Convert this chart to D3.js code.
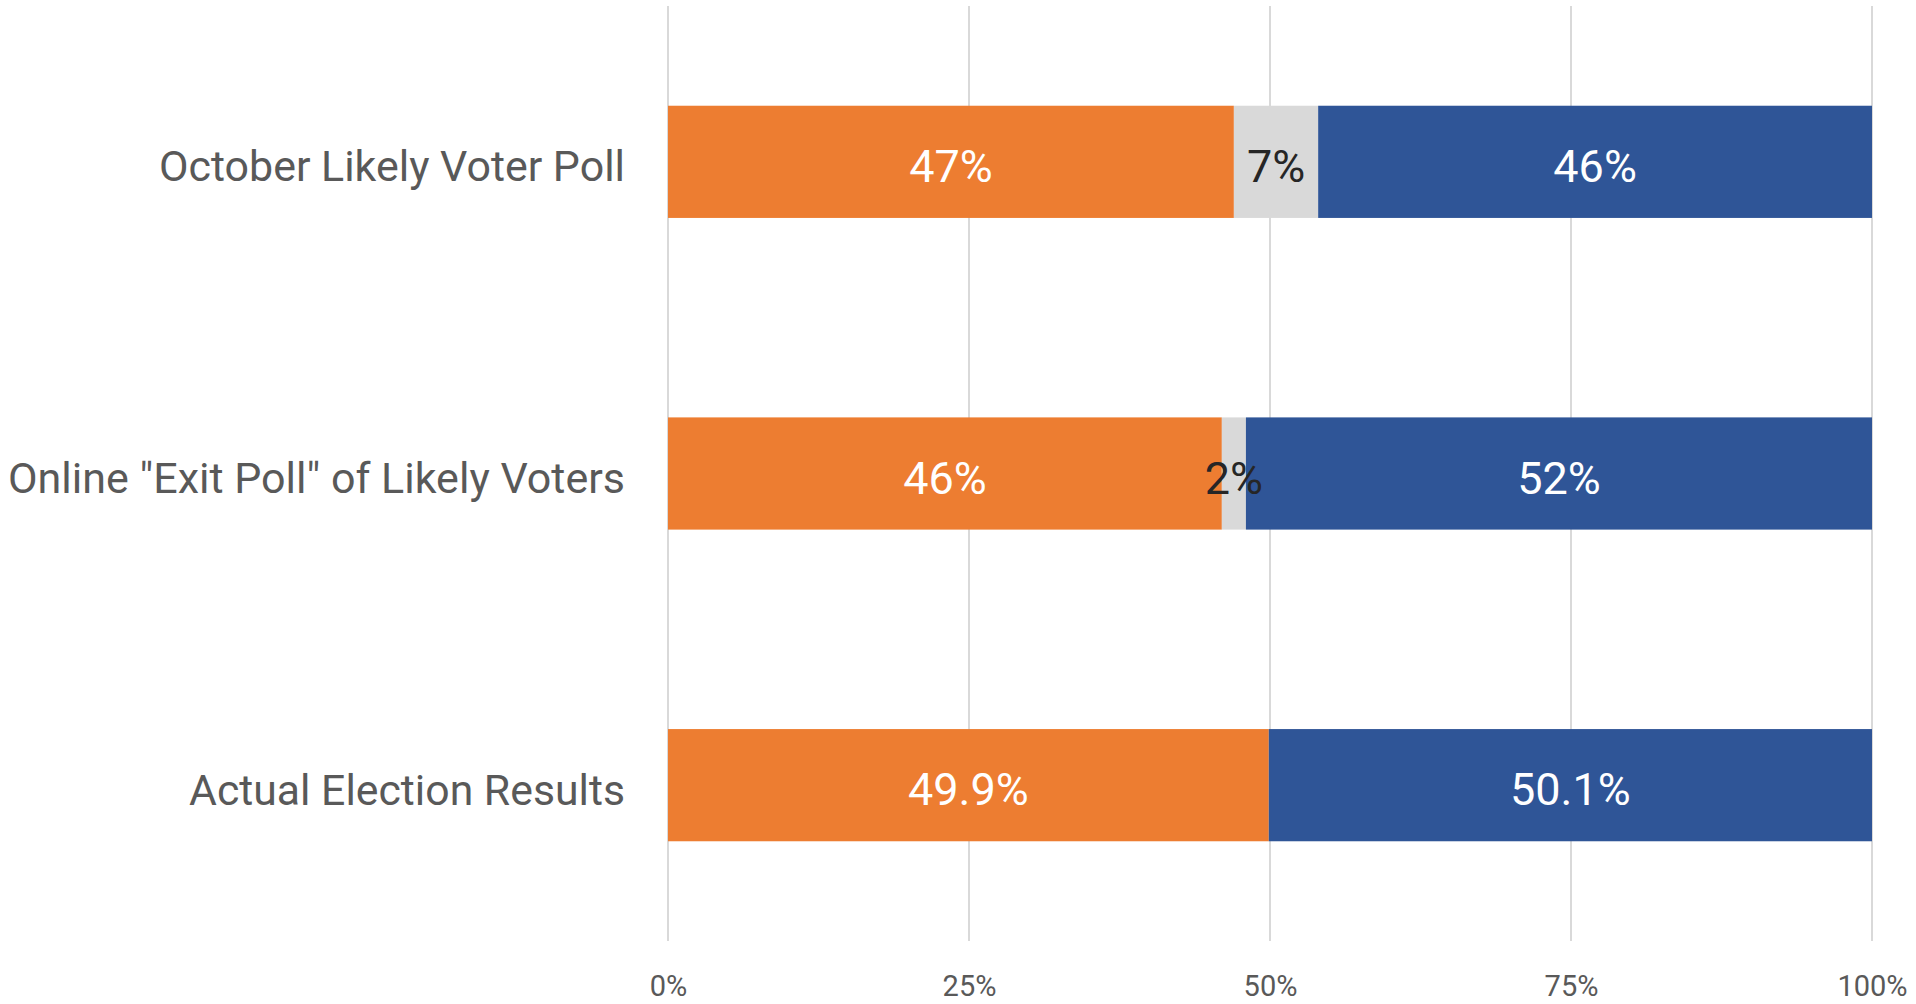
<!DOCTYPE html>
<html>
<head>
<meta charset="utf-8">
<script src="https://cdn.jsdelivr.net/npm/d3@7"></script>
<style>
  body { margin: 0; background: #fff; }
  svg { display: block; font-family: Roboto, "Noto Sans", sans-serif; }
</style>
</head>
<body>
<div id="chart"></div>
<script>
const FRAME_WIDTH = 1916;
const FRAME_HEIGHT = 1004;
const MARGINS = { left: 668, right: 44, top: 6, bottom: 63 };

// data
const categories = ["October Likely Voter Poll", "Online \"Exit Poll\" of Likely Voters", "Actual Election Results"];
const seriesKeys = ["candA", "undecided", "candB"];
const candAValues = [47, 46, 49.9];
const undecidedValues = [7, 2, 0];
const candBValues = [46, 52, 50.1];
const tickValues = [0, 25, 50, 75, 100];

const COLORS = { candA: "#ED7D31", undecided: "#D9D9D9", candB: "#2F5597" };
const LABEL_COLORS = { candA: "#FFFFFF", undecided: "#262626", candB: "#FFFFFF" };
const CAT_WIDTHS = [466, 617, 436];

const VIS_WIDTH = FRAME_WIDTH - MARGINS.left - MARGINS.right;
const VIS_HEIGHT = FRAME_HEIGHT - MARGINS.top - MARGINS.bottom;

const rows = categories.map((c, i) => ({
  category: c,
  candA: candAValues[i],
  undecided: undecidedValues[i],
  candB: candBValues[i]
}));

const svg = d3.select("#chart")
  .append("svg")
  .attr("width", FRAME_WIDTH)
  .attr("height", FRAME_HEIGHT);

const X_SCALE = d3.scaleLinear()
  .domain([0, 100])
  .range([MARGINS.left, MARGINS.left + VIS_WIDTH]);

const Y_SCALE = d3.scaleBand()
  .domain(categories)
  .range([MARGINS.top, MARGINS.top + VIS_HEIGHT])
  .paddingInner(0.64)
  .paddingOuter(0.32);

// gridlines
svg.append("g")
  .selectAll("line")
  .data(tickValues)
  .enter()
  .append("line")
  .attr("x1", d => X_SCALE(d))
  .attr("x2", d => X_SCALE(d))
  .attr("y1", MARGINS.top)
  .attr("y2", MARGINS.top + VIS_HEIGHT)
  .attr("stroke", "#D9D9D9")
  .attr("stroke-width", 2);

// x tick labels
const xAxis = svg.append("g")
  .attr("transform", "translate(0," + (MARGINS.top + VIS_HEIGHT) + ")")
  .call(d3.axisBottom(X_SCALE).tickValues(tickValues).tickFormat(d => d + "%").tickSize(0).tickPadding(55));
xAxis.select(".domain").remove();
xAxis.selectAll("text")
  .attr("font-family", "Roboto, sans-serif")
  .attr("font-size", "29px")
  .attr("fill", "#595959")
  .attr("dy", "0");

const stacked = d3.stack().keys(seriesKeys)(rows);

const layers = svg.append("g")
  .selectAll("g")
  .data(stacked)
  .enter()
  .append("g")
  .attr("fill", d => COLORS[d.key]);

layers.selectAll("rect")
  .data(d => d.filter(s => s[1] > s[0]))
  .enter()
  .append("rect")
  .attr("x", d => X_SCALE(d[0]))
  .attr("width", d => X_SCALE(d[1]) - X_SCALE(d[0]))
  .attr("y", d => Y_SCALE(d.data.category))
  .attr("height", Y_SCALE.bandwidth());

// value labels
stacked.forEach(layer => {
  svg.append("g")
    .selectAll("text")
    .data(layer.filter(s => s[1] > s[0]))
    .enter()
    .append("text")
    .attr("x", d => X_SCALE((d[0] + d[1]) / 2))
    .attr("y", d => Y_SCALE(d.data.category) + Y_SCALE.bandwidth() / 2 + 20)
    .attr("text-anchor", "middle")
    .attr("font-size", "45px")
    .attr("fill", LABEL_COLORS[layer.key])
    .text(d => (d[1] - d[0]) + "%");
});

// category labels
const yAxis = svg.append("g")
  .attr("transform", "translate(" + (MARGINS.left - 43) + ",0)")
  .call(d3.axisLeft(Y_SCALE).tickSize(0).tickPadding(0));
yAxis.select(".domain").remove();
yAxis.selectAll("text")
  .attr("font-family", "Roboto, sans-serif")
  .attr("font-size", "43px")
  .attr("fill", "#595959")
  .attr("dy", "0.45em")
  .attr("textLength", (d, i) => CAT_WIDTHS[i])
  .attr("lengthAdjust", "spacingAndGlyphs");
</script>
</body>
</html>
